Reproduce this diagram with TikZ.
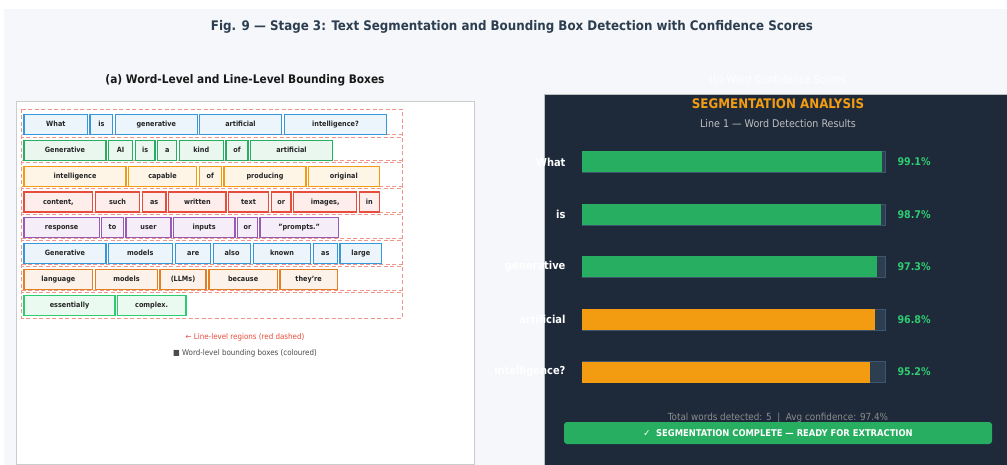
\documentclass[tikz,border=0pt]{standalone}
\usepackage{fontspec}
\setmainfont{DejaVu Sans Condensed}
\definecolor{pagebg}{HTML}{F5F7FA}
\definecolor{slate}{HTML}{2C3E50}
\definecolor{panel}{HTML}{1E2A3A}
\definecolor{track}{HTML}{2C3E50}
\definecolor{trackline}{HTML}{3D566E}
\definecolor{okgreen}{HTML}{27AE60}
\definecolor{pctgreen}{HTML}{2ECC71}
\definecolor{warnorange}{HTML}{F39C12}
\definecolor{rowblue}{HTML}{3498DB}
\definecolor{rowgreen}{HTML}{27AE60}
\definecolor{rowyellow}{HTML}{F39C12}
\definecolor{rowred}{HTML}{E74C3C}
\definecolor{rowpurple}{HTML}{9B59B6}
\definecolor{roworange}{HTML}{E67E22}
\definecolor{rowlime}{HTML}{2ECC71}
\definecolor{regionred}{HTML}{F1948A}
\begin{document}
\begin{tikzpicture}[x=1pt,y=-1pt,
  wbox/.style={draw=#1, fill=#1!10, line width=1.1pt, minimum height=20pt, inner sep=0pt,
    text height=5.5pt, text depth=1.5pt, text=black!85, font=\bfseries\fontsize{7.2}{9}\selectfont},
  linebox/.style={draw=regionred, dashed, dash pattern=on 4pt off 2.5pt, line width=0.8pt},
  barlabel/.style={anchor=east, text=white, font=\bfseries\fontsize{11}{13}\selectfont},
  pctlabel/.style={anchor=west, text=pctgreen, font=\bfseries\fontsize{10.6}{12}\selectfont}]
\useasboundingbox (0,0) rectangle (1007,465);
\fill[white] (0,0) rectangle (1007,465);
\fill[pagebg] (4,9) rectangle (1007,465);
\node[text=slate, font=\bfseries\fontsize{13.2}{15}\selectfont] (title) at (512,27)
  {Fig. 9 — Stage 3: Text Segmentation and Bounding Box Detection with Confidence Scores};
\node[text=black!90, font=\bfseries\fontsize{11.8}{14}\selectfont] (suba) at (245,80)
  {(a) Word-Level and Line-Level Bounding Boxes};
\node[text=white, font=\fontsize{11}{14}\selectfont] (subb) at (778,80) {(b) Word Confidence Scores};
\draw[fill=white, draw=black!20, line width=1pt] (16,102) rectangle (474,464);
\foreach \i in {0,...,7}
  \draw[linebox] (21.7,{109+25.85*\i}) rectangle (402,{137+25.85*\i});
\foreach \w/\xl/\xr [count=\k] in {What/24/87.7, is/90/112.7, generative/115.3/197.3,
    artificial/199.3/281.7, intelligence?/284.3/386.7}
  \node[wbox=rowblue, minimum width={\xr pt-\xl pt}] (r1w\k) at ({(\xl+\xr)/2},124.5) {\w};
\foreach \w/\xl/\xr [count=\k] in {Generative/24/106, AI/108.3/132.7, is/135.3/155, a/157.7/176.7,
    kind/179.3/223.3, of/226/248, artificial/250.3/332.7}
  \node[wbox=rowgreen, minimum width={\xr pt-\xl pt}] (r2w\k) at ({(\xl+\xr)/2},150.35) {\w};
\foreach \w/\xl/\xr [count=\k] in {intelligence/24/126, capable/128.3/196.7, of/199.3/221.3,
    producing/224/306, original/308.3/379.3}
  \node[wbox=rowyellow, minimum width={\xr pt-\xl pt}] (r3w\k) at ({(\xl+\xr)/2},176.2) {\w};
\foreach \w/\xl/\xr [count=\k] in {{content,}/24/92.7, such/95.7/139.3, as/142.3/166, written/168.7/226,
    text/228.7/268.3, or/271.3/291, {images,}/293.7/356.7, in/359.3/379.3}
  \node[wbox=rowred, minimum width={\xr pt-\xl pt}] (r4w\k) at ({(\xl+\xr)/2},202.05) {\w};
\foreach \w/\xl/\xr [count=\k] in {response/24/99.3, to/101.7/123.3, user/126/171, inputs/173.3/235,
    or/237.7/257.3, "prompts."/260/338.3}
  \node[wbox=rowpurple, minimum width={\xr pt-\xl pt}] (r5w\k) at ({(\xl+\xr)/2},227.9) {\w};
\foreach \w/\xl/\xr [count=\k] in {Generative/24/106, models/108.3/172.3, are/175.7/210.7,
    also/213.3/250.7, known/253.3/310.7, as/313.3/337.3, large/340/381.7}
  \node[wbox=rowblue, minimum width={\xr pt-\xl pt}] (r6w\k) at ({(\xl+\xr)/2},253.75) {\w};
\foreach \w/\xl/\xr [count=\k] in {language/24/92.7, models/95.7/157.3, (LLMs)/160/206,
    because/209/277.3, they're/280/337.3}
  \node[wbox=roworange, minimum width={\xr pt-\xl pt}] (r7w\k) at ({(\xl+\xr)/2},279.6) {\w};
\foreach \w/\xl/\xr [count=\k] in {essentially/24/115, complex./117.3/186}
  \node[wbox=rowlime, minimum width={\xr pt-\xl pt}] (r8w\k) at ({(\xl+\xr)/2},305.45) {\w};
\node[text=rowred, font=\fontsize{7.9}{9}\selectfont] (legline) at (245,337) {← Line-level regions (red dashed)};
\node[text=black!70, font=\fontsize{7.9}{9}\selectfont] (legword) at (245,353) {■ Word-level bounding boxes (coloured)};
\draw[fill=panel, draw=black!25, line width=0.8pt] (544,94) rectangle (1010,468);
\node[text=warnorange, font=\bfseries\fontsize{13.2}{15}\selectfont] (seghead) at (778,104) {SEGMENTATION ANALYSIS};
\node[text=black!25, font=\fontsize{10.6}{12}\selectfont] (segsub) at (778,124) {Line 1 — Word Detection Results};
\foreach \w/\p/\c [count=\i] in {What/99.1/okgreen, is/98.7/okgreen, generative/97.3/okgreen,
    artificial/96.8/warnorange, intelligence?/95.2/warnorange} {
  \draw[fill=track, draw=trackline, line width=0.6pt] (582,{151.5+52.5*(\i-1)}) rectangle (885,{172.5+52.5*(\i-1)});
  \fill[\c] (582,{151.5+52.5*(\i-1)}) rectangle ({582+3.03*\p},{172.5+52.5*(\i-1)});
  \node[barlabel] (bar\i) at (569,{162+52.5*(\i-1)}) {\w};
  \node[pctlabel] (pct\i) at (894,{162+52.5*(\i-1)}) {\p\%};
}
\node[text=black!45, font=\fontsize{9.8}{11}\selectfont] (total) at (778,418)
  {Total words detected: 5 \ | \ Avg confidence: 97.4\%};
\fill[okgreen, rounded corners=3pt] (564,422) rectangle (992,444);
\node[text=white, font=\bfseries\fontsize{9.3}{11}\selectfont] (done) at (778,433)
  {✓ \ SEGMENTATION COMPLETE — READY FOR EXTRACTION};
\end{tikzpicture}
\end{document}
